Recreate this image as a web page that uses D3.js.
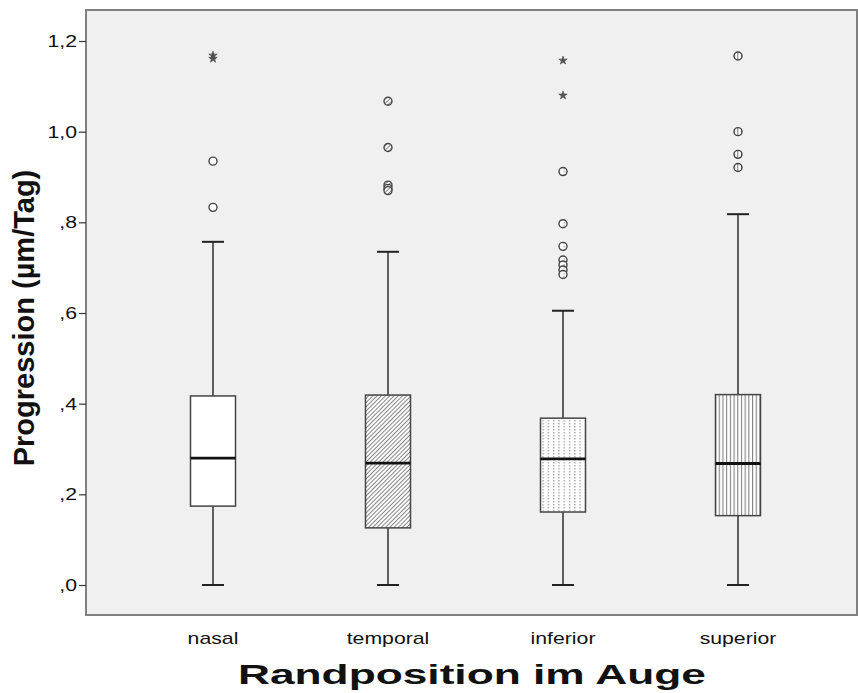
<!DOCTYPE html>
<html>
<head>
<meta charset="utf-8">
<script src="https://cdn.jsdelivr.net/npm/d3@7"></script>
<style>
body { margin: 0; background: #fff; }
text { font-family: Arial, "Liberation Sans", sans-serif; }
</style>
</head>
<body>
<div id="chart"></div>
<script>
// categories and box statistics
var categories = ["nasal", "temporal", "inferior", "superior"];
var whiskerLow = [0, 0, 0, 0];
var q1 = [0.174, 0.126, 0.161, 0.153];
var median = [0.280, 0.269, 0.278, 0.268];
var q3 = [0.417, 0.419, 0.368, 0.420];
var whiskerHigh = [0.757, 0.735, 0.605, 0.818];
var outliers = [
	[0.833, 0.935],
	[1.067, 0.965, 0.882, 0.875, 0.870],
	[0.912, 0.797, 0.747, 0.717, 0.706, 0.695, 0.685],
	[1.167, 1.0, 0.95, 0.921]
];
var extremes = [
	[1.168, 1.161],
	[],
	[1.157, 1.08],
	[]
];
var fills = ["white", "url(#diag)", "url(#dots)", "url(#vert)"];
var yTicks = [0, 0.2, 0.4, 0.6, 0.8, 1.0, 1.2];

var width = 858, height = 693;
var plot = {left: 86, top: 10, right: 857, bottom: 615};
var stretch = 1.25; // the labels in the picture are wider than plain Arial

var svg = d3.select("#chart")
	.append("svg")
	.attr("width", width)
	.attr("height", height);

// patterns for box fills
var defs = svg.append("defs");
var p1 = defs.append("pattern").attr("id", "diag")
	.attr("patternUnits", "userSpaceOnUse").attr("width", 3).attr("height", 3)
	.attr("patternTransform", "rotate(45)");
p1.append("rect").attr("width", 3).attr("height", 3).attr("fill", "white");
p1.append("line").attr("x1", 0).attr("y1", 0).attr("x2", 0).attr("y2", 3)
	.attr("stroke", "#444").attr("stroke-width", 1.3);

var p2 = defs.append("pattern").attr("id", "dots")
	.attr("patternUnits", "userSpaceOnUse").attr("width", 5.3).attr("height", 3);
p2.append("rect").attr("width", 5.3).attr("height", 3).attr("fill", "white");
p2.append("rect").attr("x", 2).attr("y", 0).attr("width", 1).attr("height", 1.5).attr("fill", "#888");

var p3 = defs.append("pattern").attr("id", "vert")
	.attr("patternUnits", "userSpaceOnUse").attr("width", 3.7).attr("height", 4);
p3.append("rect").attr("width", 3.7).attr("height", 4).attr("fill", "white");
p3.append("line").attr("x1", 1.5).attr("y1", 0).attr("x2", 1.5).attr("y2", 4)
	.attr("stroke", "#777").attr("stroke-width", 1);

var x = d3.scalePoint()
	.domain(categories)
	.range([213, 738]);

var y = d3.scaleLinear()
	.domain([0, 1.2])
	.range([585, 41]);

// plot background
svg.append("rect")
	.attr("x", plot.left)
	.attr("y", plot.top)
	.attr("width", plot.right - plot.left)
	.attr("height", plot.bottom - plot.top)
	.attr("fill", "#f0f0f0")
	.attr("stroke", "#808080")
	.attr("stroke-width", 2);

// y axis
var yAxis = d3.axisLeft(y)
	.tickValues(yTicks)
	.tickSize(7)
	.tickFormat(function (d) {
		var s = d3.format(".1f")(d).replace(".", ",");
		return s.indexOf("0,") == 0 ? s.slice(1) : s;
	});
var ga = svg.append("g")
	.attr("transform", "translate(" + plot.left + ",0)")
	.call(yAxis);
ga.select(".domain").remove();
ga.selectAll(".tick line").attr("stroke", "#333").attr("stroke-width", 1.2);
ga.selectAll(".tick text")
	.attr("font-size", 17)
	.attr("fill", "#111")
	.attr("font-family", "Arial, 'Liberation Sans', sans-serif")
	.attr("x", -9 / stretch)
	.attr("transform", "scale(" + stretch + ",1)");

// x labels
svg.selectAll(".xlab")
	.data(categories)
	.enter().append("text")
	.attr("class", "xlab")
	.attr("transform", function (d) { return "translate(" + x(d) + ",644) scale(" + stretch + ",1)"; })
	.attr("text-anchor", "middle")
	.attr("font-size", 17)
	.attr("fill", "#111")
	.text(function (d) { return d; });

// axis titles
svg.append("text")
	.attr("x", 472)
	.attr("y", 684)
	.attr("text-anchor", "middle")
	.attr("font-size", 28)
	.attr("font-weight", "bold")
	.attr("fill", "#111")
	.attr("textLength", 468)
	.attr("lengthAdjust", "spacingAndGlyphs")
	.text("Randposition im Auge");

svg.append("text")
	.attr("transform", "translate(34,318) rotate(-90)")
	.attr("text-anchor", "middle")
	.attr("font-size", 29)
	.attr("font-weight", "bold")
	.attr("fill", "#111")
	.text("Progression (µm/Tag)");

var boxW = 45, capW = 22;

var boxes = svg.selectAll(".box")
	.data(categories)
	.enter().append("g")
	.attr("class", "box");

// whiskers
boxes.append("line")
	.attr("x1", function (d) { return x(d); })
	.attr("x2", function (d) { return x(d); })
	.attr("y1", function (d, i) { return y(whiskerLow[i]); })
	.attr("y2", function (d, i) { return y(whiskerHigh[i]); })
	.attr("stroke", "#222").attr("stroke-width", 1.4);

boxes.append("line")
	.attr("x1", function (d) { return x(d) - capW / 2; })
	.attr("x2", function (d) { return x(d) + capW / 2; })
	.attr("y1", function (d, i) { return y(whiskerLow[i]); })
	.attr("y2", function (d, i) { return y(whiskerLow[i]); })
	.attr("stroke", "#222").attr("stroke-width", 2);

boxes.append("line")
	.attr("x1", function (d) { return x(d) - capW / 2; })
	.attr("x2", function (d) { return x(d) + capW / 2; })
	.attr("y1", function (d, i) { return y(whiskerHigh[i]); })
	.attr("y2", function (d, i) { return y(whiskerHigh[i]); })
	.attr("stroke", "#222").attr("stroke-width", 2);

// boxes
boxes.append("rect")
	.attr("x", function (d) { return x(d) - boxW / 2; })
	.attr("width", boxW)
	.attr("y", function (d, i) { return y(q3[i]); })
	.attr("height", function (d, i) { return y(q1[i]) - y(q3[i]); })
	.attr("fill", function (d, i) { return fills[i]; })
	.attr("stroke", "#444").attr("stroke-width", 1.5);

boxes.append("line")
	.attr("x1", function (d) { return x(d) - boxW / 2; })
	.attr("x2", function (d) { return x(d) + boxW / 2; })
	.attr("y1", function (d, i) { return y(median[i]); })
	.attr("y2", function (d, i) { return y(median[i]); })
	.attr("stroke", "#111").attr("stroke-width", 2.8);

// outliers (circles) and extremes (stars)
categories.forEach(function (c, i) {
	svg.selectAll(".out" + i)
		.data(outliers[i])
		.enter().append("circle")
		.attr("cx", x(c))
		.attr("cy", function (d) { return y(d); })
		.attr("r", 4)
		.attr("fill", fills[i])
		.attr("stroke", "#444")
		.attr("stroke-width", 1.4);

	svg.selectAll(".ext" + i)
		.data(extremes[i])
		.enter().append("path")
		.attr("transform", function (d) { return "translate(" + x(c) + "," + y(d) + ")"; })
		.attr("d", d3.symbol().type(d3.symbolStar).size(22))
		.attr("fill", "#555")
		.attr("stroke", "#444")
		.attr("stroke-width", 0.6);
});
</script>
</body>
</html>
